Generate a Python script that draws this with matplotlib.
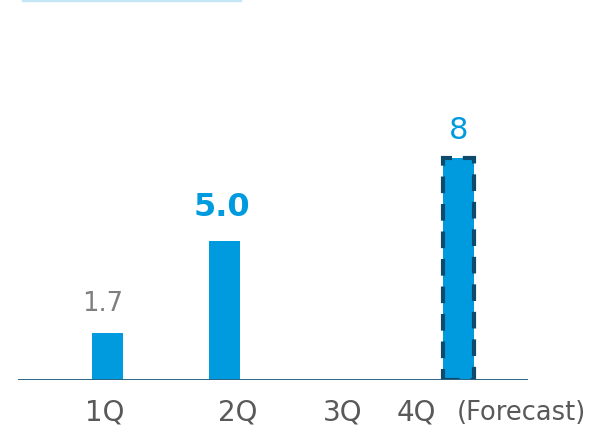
import matplotlib
matplotlib.use("Agg")
import matplotlib.pyplot as plt
from matplotlib.lines import Line2D

# chart data
quarters = ["1Q", "2Q", "3Q", "4Q"]
values = [1.7, 5.0, None, 8.0]
value_labels = ["1.7", "5.0", "", "8"]
forecast = [False, False, False, True]
forecast_note = "(Forecast)"

BLUE = "#009bdf"
NAVY = "#0d4a6b"
GRAY = "#7f7f7f"
DARK_GRAY = "#595959"

fig = plt.figure(figsize=(5.9, 4.37), dpi=100)
ax = fig.add_axes([18 / 590, 1 - 380 / 437, 510 / 590, 380 / 437])
ax.set_xlim(-0.759, 3.589)
ax.set_ylim(0, 380 / 27.8)

for i, (q, v) in enumerate(zip(quarters, values)):
    if v is None:
        continue
    if forecast[i]:
        ax.bar(i, v, width=0.264, color=BLUE, edgecolor=NAVY, linewidth=3,
               linestyle=(0, (4, 2.6)), zorder=3)
    else:
        ax.bar(i, v, width=0.264, color=BLUE, zorder=3)

# value labels
label_styles = [
    dict(color=GRAY, fontsize=18.5, fontweight="normal", dx=-0.04, pad=11),
    dict(color=BLUE, fontsize=23, fontweight="bold", dx=-0.02, pad=13),
    None,
    dict(color=BLUE, fontsize=22, fontweight="normal", dx=0.0, pad=9),
]
for i, (v, txt) in enumerate(zip(values, value_labels)):
    st = label_styles[i]
    if v is None or st is None:
        continue
    ax.annotate(txt, xy=(i + st["dx"], v), xytext=(0, st["pad"]),
                textcoords="offset points", ha="center", va="bottom",
                color=st["color"], fontsize=st["fontsize"],
                fontweight=st["fontweight"])

# baseline
ax.axhline(0, color="#2a6485", linewidth=1.4, zorder=4)

# category labels under the axis
label_x = [-0.02, 1.11, 2.01]
for q, x in zip(quarters[:3], label_x):
    ax.text(x, -1.18, q, ha="center", va="center", fontsize=20,
            color=DARK_GRAY, clip_on=False)
ax.text(2.47, -1.18, quarters[3], ha="left", va="center", fontsize=20,
        color=DARK_GRAY, clip_on=False)
ax.text(2.985, -1.18, forecast_note, ha="left", va="center", fontsize=18.5,
        color=DARK_GRAY, clip_on=False)

ax.set_xticks([])
ax.set_yticks([])
for s in ax.spines.values():
    s.set_visible(False)

# thin light-blue rule at the top
fig.add_artist(Line2D([23 / 590, 240 / 590], [0.999, 0.999], color="#c5e6f7",
                      linewidth=2.5, transform=fig.transFigure))

fig.savefig("out.png", dpi=100)
